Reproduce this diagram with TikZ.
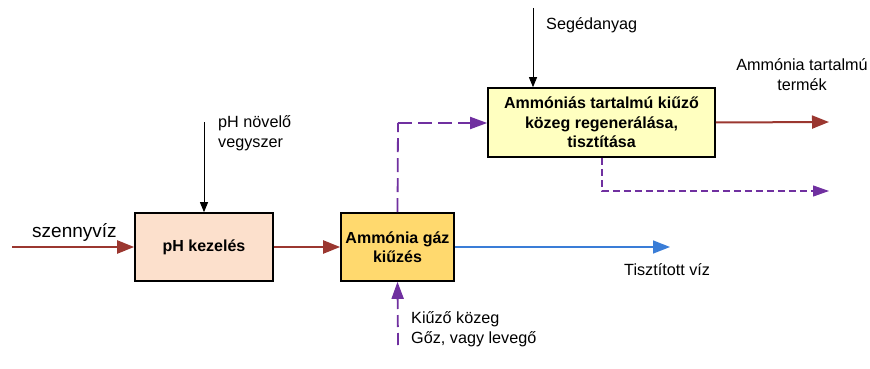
\documentclass[tikz,border=0pt]{standalone}
\usepackage{fontspec}
\setmainfont{Liberation Sans}
\usetikzlibrary{arrows.meta}
\definecolor{brn}{RGB}{155,55,48}
\definecolor{blu}{RGB}{58,125,215}
\definecolor{pur}{RGB}{112,48,160}
\definecolor{peach}{RGB}{252,224,204}
\definecolor{gold}{RGB}{255,217,110}
\definecolor{lyel}{RGB}{255,255,192}
\tikzset{
  lbl/.style={font=\fontsize{16.2}{19.5}\selectfont, inner sep=0pt, align=left},
  procbox/.style={draw=black, line width=1.6pt, font=\fontsize{16}{19.5}\selectfont\bfseries, align=center, inner sep=0pt},
  bigtip/.style={-{Triangle[length=17pt,width=13pt]}},
  smalltip/.style={-{Triangle[length=10pt,width=8pt]}},
  brnline/.style={draw=brn, line width=2pt, bigtip},
  blkline/.style={draw=black, line width=0.9pt, smalltip},
}
\begin{document}
\begin{tikzpicture}[x=1pt,y=-1pt]
\useasboundingbox (0,0) rectangle (870,369);
% boxes
\node[procbox, fill=peach, minimum width=138pt, minimum height=68pt] (ph) at (204,247) {pH kezelés};
\node[procbox, fill=gold, minimum width=113pt, minimum height=68pt] (am) at (397.5,247) {Ammónia gáz\\kiűzés};
\node[procbox, fill=lyel, minimum width=227pt, minimum height=69pt] (reg) at (601.5,122.5) {Ammóniás tartalmú kiűző\\közeg regenerálása,\\tisztítása};
% coordinates
\coordinate (in) at (12,247);
\coordinate (phtop) at (204,122);
\coordinate (segtop) at (533,8);
\coordinate (clean) at (670,247);
\coordinate (prod) at (829,122);
\coordinate (kbot) at (398,345);
\coordinate (corner) at (398,123);
\coordinate (dcorner) at (602,191);
\coordinate (dend) at (829,191);
% labels
\node[lbl, anchor=base west, font=\fontsize{19}{22}\selectfont] (szv) at (32,237) {szennyvíz};
\node[lbl, anchor=base west] (phn) at (218,147) {pH növelő\\vegyszer};
\node[lbl, anchor=base west] (seg) at (546,30) {Segédanyag};
\node[lbl, anchor=base, align=center] (amt) at (802,90) {Ammónia tartalmú\\termék};
\node[lbl, anchor=base west] (tv) at (624,275) {Tisztított víz};
\node[lbl, anchor=base west] (kk) at (411,343) {Kiűző közeg\\Gőz, vagy levegő};
% connectors
\draw[brnline] (in) -- (ph.west);
\draw[brnline] (ph.east) -- (am.west);
\draw[brnline] (reg.east) -- (prod);
\draw[draw=blu, line width=1.6pt, bigtip] (am.east) -- (clean);
\draw[blkline] (phtop) -- (ph.north);
\draw[blkline] (segtop) -- (segtop |- reg.north);
\draw[draw=pur, line width=1.8pt, dash pattern=on 14pt off 6pt] (am.north) -- (corner);
\draw[draw=pur, line width=1.8pt, dash pattern=on 14pt off 6pt, -{Triangle[length=17pt,width=12pt]}] (corner) -- (corner -| reg.west);
\draw[draw=pur, line width=1.8pt, dash pattern=on 12pt off 6pt, -{Triangle[length=17pt,width=12pt]}] (kbot) -- (am.south);
\draw[draw=pur, line width=1.1pt, dash pattern=on 7pt off 4pt, -{Triangle[length=16pt,width=11pt]}] (dcorner |- reg.south) -- (dcorner) -- (dend);
\end{tikzpicture}
\end{document}
